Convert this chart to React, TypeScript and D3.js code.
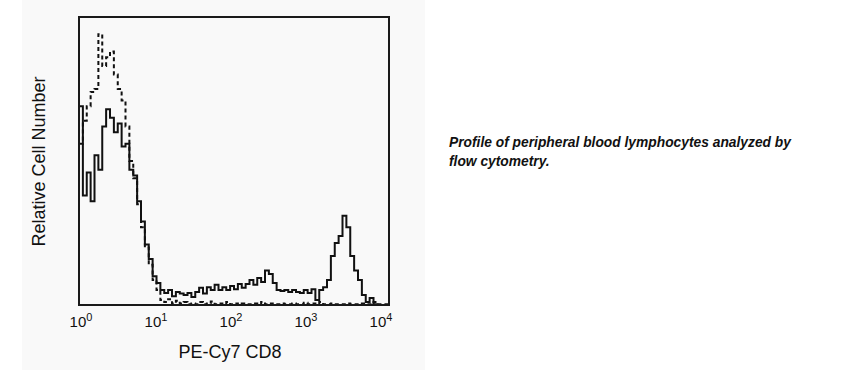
import * as d3 from 'd3';
import { useEffect, useRef } from 'react';

// relative cell counts per channel (80 channels over 4 decades)
const solidCounts = [
  69, 38, 46, 36, 52, 47, 62, 68, 65, 60,
  63, 55, 56, 47, 45, 36, 29, 21, 16, 10,
  7.6, 5.2, 4.2, 5.2, 3, 4.5, 4, 3.5, 4.2, 2.8,
  4.5, 6, 4, 6.2, 5.2, 7, 5.2, 6.2, 5.2, 6.6,
  5.5, 7.3, 6, 7.3, 8.7, 7, 9.4, 8, 12, 10.8,
  7.6, 5.2, 4.9, 5.2, 4.5, 5.2, 4.5, 4.2, 5.2, 4.2,
  5.5, 1.7, 5.2, 6.2, 8.7, 17, 21.5, 24, 31, 27,
  17, 12, 8.7, 3.5, 1, 2.4, 0.3, 0, 0, 0,
];

const dashedCounts = [
  56, 64, 69, 74, 75, 94, 83, 86, 88, 80,
  75, 71, 62, 50, 44, 35, 27, 20, 14, 8.7,
  5.2, 1.7, 1, 2, 0.5, 1.5, 0.5, 1, 0.3, 0.5,
  0.3, 1, 0.3, 0.5, 1.2, 0.3, 0.5, 0.3, 1, 0.3,
  0.5, 0.3, 0.5, 0.3, 0.3, 0.5, 0.3, 1, 0.3, 0.5,
  0.3, 0.3, 0.5, 0.3, 0.3, 0.5, 0.3, 0.3, 0.8, 0.3,
  0.5, 0.3, 1, 0.3, 0.3, 0.5, 0.3, 0.3, 0.3, 0.5,
  0.3, 0.3, 0.3, 0.5, 0.3, 0.3, 1, 0.3, 0.3, 0.3,
];

const tickExponents = ['0', '1', '2', '3', '4'];
const captionLines = [
  'Profile of peripheral blood lymphocytes analyzed by',
  'flow cytometry.',
];

const Chart = () => {
  const svgRef = useRef(null);

  useEffect(() => {
    const svg = d3.select(svgRef.current);
    svg.selectAll('*').remove();

    const left = 79, right = 389, top = 17, bottom = 305;
    const nBins = solidCounts.length;

    const x = d3.scaleLog().domain([1, 1e4]).range([left, right]);
    const xLabel = d3.scaleLog().domain([1, 1e4]).range([81, 381]);
    const y = d3.scaleLinear().domain([0, 100]).range([bottom, top]);

    // panel background
    svg.append('rect')
      .attr('x', 22).attr('y', 0)
      .attr('width', 403).attr('height', 370)
      .attr('fill', '#f9f9f9');

    const edges = d3.range(nBins + 1).map(i => Math.pow(10, (i * 4) / nBins));

    const toPoints = (counts: number[]) => {
      const pts = counts.map((c, i) => [edges[i], c]);
      pts.push([edges[nBins], counts[nBins - 1]]);
      return pts;
    };

    const line = d3.line<number[]>()
      .x(d => x(d[0]))
      .y(d => y(d[1]))
      .curve(d3.curveStepAfter);

    svg.append('path')
      .attr('d', line(toPoints(dashedCounts)))
      .attr('fill', 'none')
      .attr('stroke', '#111')
      .attr('stroke-width', 2)
      .attr('stroke-dasharray', '4 3');

    svg.append('path')
      .attr('d', line(toPoints(solidCounts)))
      .attr('fill', 'none')
      .attr('stroke', '#111')
      .attr('stroke-width', 2);

    // frame
    svg.append('rect')
      .attr('x', left).attr('y', top)
      .attr('width', 310).attr('height', bottom - top)
      .attr('fill', 'none')
      .attr('stroke', '#1a1a1a')
      .attr('stroke-width', 2);

    // tick labels 10^n
    const labels = svg.append('g')
      .attr('font-family', 'Liberation Sans, Arial, sans-serif')
      .attr('fill', '#111');
    tickExponents.forEach(e => {
      const t = labels.append('text')
        .attr('x', xLabel(Math.pow(10, +e)))
        .attr('y', 327)
        .attr('text-anchor', 'middle')
        .attr('font-size', 15);
      t.append('tspan').text('10');
      t.append('tspan').attr('dy', -6).attr('font-size', 11).text(e);
    });

    svg.append('text')
      .attr('x', 230).attr('y', 358)
      .attr('text-anchor', 'middle')
      .attr('font-family', 'Liberation Sans, Arial, sans-serif')
      .attr('font-size', 18)
      .attr('fill', '#111')
      .text('PE-Cy7 CD8');

    svg.append('text')
      .attr('transform', 'translate(45,161.5) rotate(-90)')
      .attr('text-anchor', 'middle')
      .attr('font-family', 'Liberation Sans, Arial, sans-serif')
      .attr('font-size', 18)
      .attr('fill', '#111')
      .text('Relative Cell Number');

    // caption
    svg.append('g')
      .selectAll('text')
      .data(captionLines)
      .enter()
      .append('text')
      .attr('x', 449)
      .attr('y', (d, i) => 147 + i * 19)
      .attr('font-family', 'Liberation Sans, Arial, sans-serif')
      .attr('font-size', 13.8)
      .attr('font-weight', 'bold')
      .attr('font-style', 'italic')
      .attr('fill', '#111')
      .text(d => d);
  }, []);

  return (
    <svg ref={svgRef} width={865} height={371}
      style={{ position: 'absolute', left: 0, top: 0, background: '#fff' }}></svg>
  );
};

export default function App() {
  return <Chart />;
}
